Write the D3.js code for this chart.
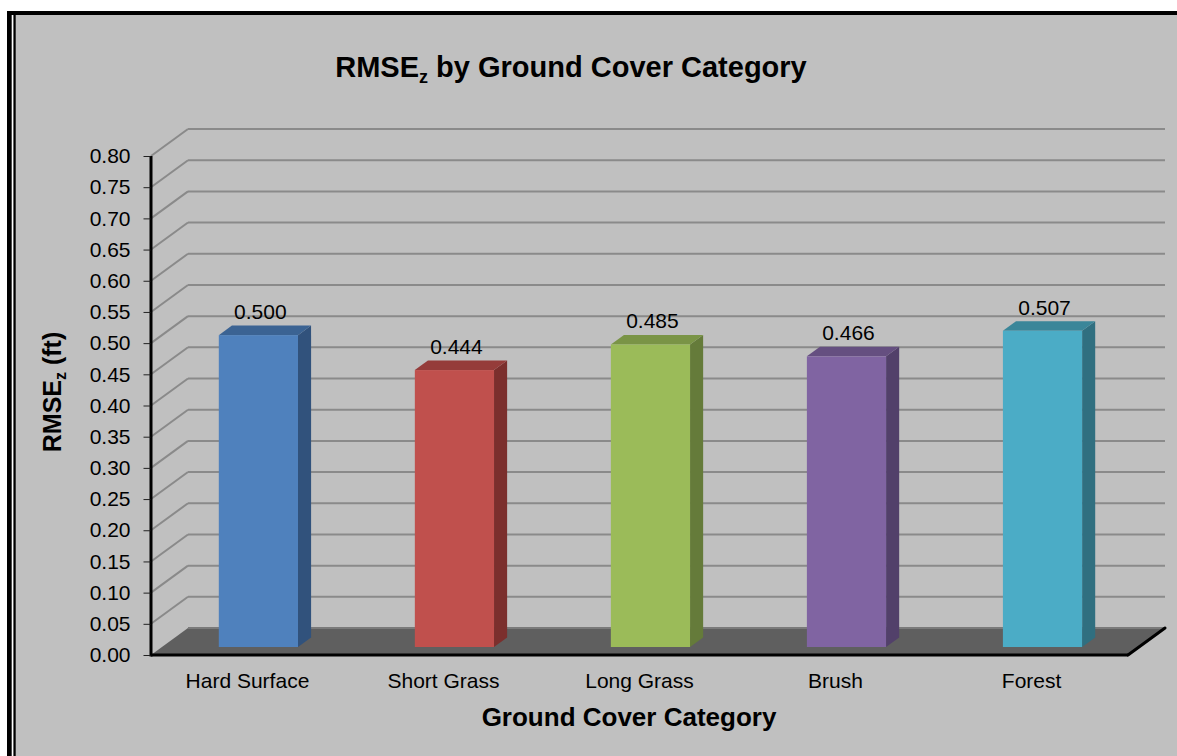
<!DOCTYPE html>
<html>
<head>
<meta charset="utf-8">
<script src="https://cdn.jsdelivr.net/npm/d3@7"></script>
<style>
  html, body { margin: 0; padding: 0; background: #fff; }
  svg { display: block; }
  text { font-family: Arial, "Liberation Sans", sans-serif; fill: #000; }
</style>
</head>
<body>
<svg id="chart" width="1177" height="756"></svg>
<script>
// Ground cover categories and their vertical RMSE (ft)
const categories = ["Hard Surface", "Short Grass", "Long Grass", "Brush", "Forest"];
const rmseValues = [0.500, 0.444, 0.485, 0.466, 0.507];
const valueLabels = ["0.500", "0.444", "0.485", "0.466", "0.507"];
const yTicks = [0.00, 0.05, 0.10, 0.15, 0.20, 0.25, 0.30, 0.35, 0.40, 0.45, 0.50, 0.55, 0.60, 0.65, 0.70, 0.75, 0.80];

// Face colours per bar: front, top, side
const frontColors = ["#4F81BD", "#C0504D", "#9BBB59", "#8064A2", "#4BACC6"];
const topColors   = ["#3B6393", "#953C3A", "#7A9446", "#654F80", "#3A8699"];
const sideColors  = ["#31527C", "#7B2F2D", "#657B3A", "#52406A", "#306F80"];

const svg = d3.select("#chart");
const W = 1177, H = 756;
const FONT = "Arial, 'Liberation Sans', sans-serif";

// Frame: heavy black border with a double rule on the left
svg.append("rect").attr("x", 0).attr("y", 0).attr("width", W).attr("height", H).attr("fill", "#fff");
svg.append("rect").attr("x", 7).attr("y", 11).attr("width", W - 7).attr("height", H - 11).attr("fill", "#000");
svg.append("rect").attr("x", 11.7).attr("y", 15).attr("width", 1.7).attr("height", H - 15).attr("fill", "#fff");
svg.append("rect").attr("x", 15.7).attr("y", 15).attr("width", W - 15.7).attr("height", H - 15).attr("fill", "#c0c0c0");

// Plot geometry (front plane) and 3-D depth offset
const plotLeft = 151, plotRight = 1128, plotTop = 156, plotBottom = 655;
const depthX = 37, depthY = -27;           // full depth of the floor
const barFront = 0.296, barBack = 0.65;   // bar placement within the depth

const x = d3.scaleBand().domain(categories).range([plotLeft, plotRight]).paddingInner(0.596).paddingOuter(0.29);
const y = d3.scaleLinear().domain([0, 0.8]).range([plotBottom, plotTop]);

// Floor
svg.append("path")
  .attr("d", `M${plotLeft},${plotBottom} L${plotRight},${plotBottom} L${plotRight + depthX},${plotBottom + depthY} L${plotLeft + depthX},${plotBottom + depthY} Z`)
  .attr("fill", "#5f5f5f");

// Gridlines on the side wall and the back wall
const grid = svg.append("g").attr("stroke-width", 2).attr("fill", "none");
yTicks.forEach(v => {
  const yy = y(v);
  if (v > 0) {
    grid.append("line").attr("x1", plotLeft).attr("y1", yy).attr("x2", plotLeft + depthX).attr("y2", yy + depthY)
      .attr("stroke", "#8a8a8a");
  }
  grid.append("line").attr("x1", plotLeft + depthX).attr("y1", yy + depthY).attr("x2", plotRight + depthX).attr("y2", yy + depthY)
    .attr("stroke", v === 0 ? "#7a7a7a" : "#8a8a8a");
});

// 3-D bars
const bars = svg.append("g");
categories.forEach((c, i) => {
  const v = rmseValues[i];
  const fx0 = x(c) + barFront * depthX;
  const fx1 = fx0 + x.bandwidth();
  const fyBase = y(0) + barFront * depthY;
  const fyTop = y(v) + barFront * depthY;
  const ddx = (barBack - barFront) * depthX;
  const ddy = (barBack - barFront) * depthY;

  // side face
  bars.append("path")
    .attr("d", `M${fx1},${fyTop} L${fx1 + ddx},${fyTop + ddy} L${fx1 + ddx},${fyBase + ddy} L${fx1},${fyBase} Z`)
    .attr("fill", sideColors[i]);
  // top face
  bars.append("path")
    .attr("d", `M${fx0},${fyTop} L${fx0 + ddx},${fyTop + ddy} L${fx1 + ddx},${fyTop + ddy} L${fx1},${fyTop} Z`)
    .attr("fill", topColors[i]);
  // front face
  bars.append("rect")
    .attr("x", fx0).attr("y", fyTop)
    .attr("width", fx1 - fx0).attr("height", fyBase - fyTop)
    .attr("fill", frontColors[i]);

  // value label
  bars.append("text")
    .attr("x", (fx0 + fx1) / 2 + 2)
    .attr("y", fyTop - 16)
    .attr("text-anchor", "middle")
    .attr("font-size", 21)
    .text(valueLabels[i]);
});

// Axis lines: value axis, front floor edge and right floor edge
svg.append("line").attr("x1", plotLeft).attr("y1", plotTop).attr("x2", plotLeft).attr("y2", plotBottom + 1.5)
  .attr("stroke", "#000").attr("stroke-width", 3);
svg.append("line").attr("x1", plotLeft).attr("y1", plotBottom).attr("x2", plotRight).attr("y2", plotBottom)
  .attr("stroke", "#000").attr("stroke-width", 3);
svg.append("line").attr("x1", plotRight).attr("y1", plotBottom).attr("x2", plotRight + depthX).attr("y2", plotBottom + depthY)
  .attr("stroke", "#000").attr("stroke-width", 3).attr("stroke-linecap", "round");

// Y axis ticks and labels
const yAxis = d3.axisLeft(y).tickValues(yTicks).tickFormat(d3.format(".2f")).tickSize(7).tickPadding(13);
const yg = svg.append("g").attr("transform", `translate(${plotLeft - 0.5},0)`).call(yAxis);
yg.select(".domain").remove();
yg.selectAll(".tick line").attr("stroke", "#222").attr("stroke-width", 1);
yg.selectAll(".tick text").attr("font-size", 21).attr("font-family", FONT).attr("fill", "#000");

// Category labels
const xAxis = d3.axisBottom(x).tickSize(0).tickPadding(0);
const xg = svg.append("g").attr("transform", `translate(0,${plotBottom})`).call(xAxis);
xg.select(".domain").remove();
xg.selectAll(".tick text").attr("font-size", 21).attr("font-family", FONT)
  .attr("fill", "#000").attr("dy", null).attr("y", 33);

// Title
const title = svg.append("text").attr("x", 571).attr("y", 77).attr("text-anchor", "middle")
  .attr("font-size", 29).attr("font-weight", "bold");
title.append("tspan").text("RMSE");
title.append("tspan").attr("font-size", 18).attr("dy", 6).text("z");
title.append("tspan").attr("dy", -6).text(" by Ground Cover Category");

// Axis titles
svg.append("text").attr("x", 629).attr("y", 726).attr("text-anchor", "middle")
  .attr("font-size", 26).attr("font-weight", "bold").text("Ground Cover Category");

const yTitle = svg.append("text").attr("transform", "translate(61,392) rotate(-90)").attr("text-anchor", "middle")
  .attr("font-size", 25).attr("font-weight", "bold");
yTitle.append("tspan").text("RMSE");
yTitle.append("tspan").attr("font-size", 16).attr("dy", 5).text("z");
yTitle.append("tspan").attr("dy", -5).text(" (ft)");
</script>
</body>
</html>
